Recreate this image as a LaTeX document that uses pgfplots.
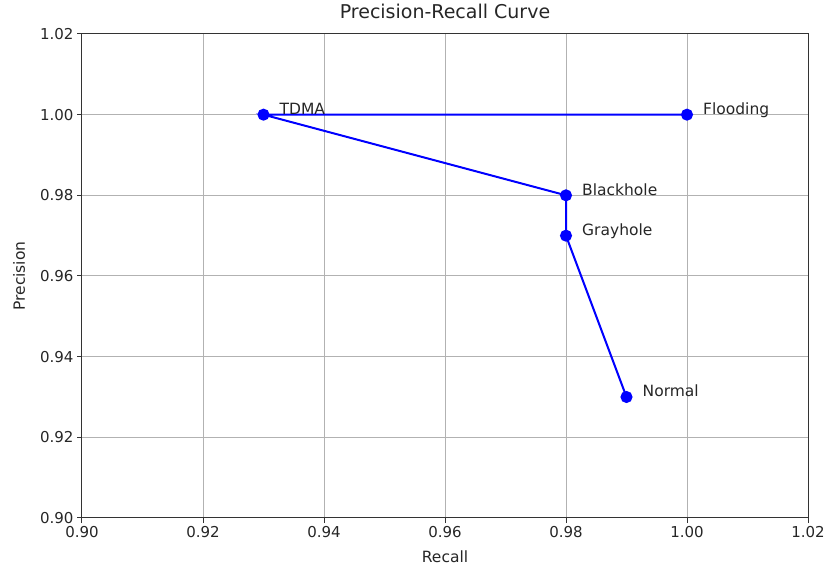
\documentclass[border=0pt]{standalone}
\usepackage{pgfplots}
\pgfplotsset{compat=1.18}
\usepackage{fontspec}
\setmainfont{DejaVu Sans}
\begin{document}
\begin{tikzpicture}
\begin{axis}[
  scale only axis,
  width=726pt, height=484pt,
  xmin=0.90, xmax=1.02, ymin=0.90, ymax=1.02,
  xtick={0.90,0.92,...,1.021}, ytick={0.90,0.92,...,1.021},
  xticklabel style={/pgf/number format/.cd,fixed,fixed zerofill,precision=2},
  yticklabel style={/pgf/number format/.cd,fixed,fixed zerofill,precision=2},
  /pgf/number format/assume math mode=true,
  ticklabel style={font=\fontsize{15}{18}\selectfont, text=black!85},
  label style={font=\fontsize{15.5}{18}\selectfont, text=black!85},
  title style={font=\fontsize{19}{22}\selectfont, text=black!85,
    at={(axis description cs:0.5,1)}, anchor=base, yshift=9pt},
  title={Precision-Recall Curve},
  xlabel={Recall}, ylabel={Precision},
  xlabel style={at={(axis description cs:0.5,0)}, anchor=base, yshift=-44pt},
  ylabel style={at={([xshift=-57pt]axis description cs:0,0.5)}, rotate=0, anchor=base},
  grid=major,
  grid style={color=black!30, line width=1pt},
  axis line style={black!80, line width=1pt},
  tick style={black!80, line width=1pt},
  tick align=outside,
  major tick length=5pt,
  xtick pos=bottom, ytick pos=left,
]
\addplot[color=blue, line width=2pt, mark=*, mark size=5pt, mark options={fill=blue, draw=blue}]
  coordinates {(0.99,0.93) (0.98,0.97) (0.98,0.98) (0.93,1.00) (1.00,1.00)};
\node[anchor=base west, inner sep=0pt, xshift=16pt, font=\fontsize{15.5}{18}\selectfont, text=black!85] at (axis cs:0.99,0.93) {Normal};
\node[anchor=base west, inner sep=0pt, xshift=16pt, font=\fontsize{15.5}{18}\selectfont, text=black!85] at (axis cs:0.98,0.97) {Grayhole};
\node[anchor=base west, inner sep=0pt, xshift=16pt, font=\fontsize{15.5}{18}\selectfont, text=black!85] at (axis cs:0.98,0.98) {Blackhole};
\node[anchor=base west, inner sep=0pt, xshift=16pt, font=\fontsize{15.5}{18}\selectfont, text=black!85] at (axis cs:0.93,1.00) {TDMA};
\node[anchor=base west, inner sep=0pt, xshift=16pt, font=\fontsize{15.5}{18}\selectfont, text=black!85] at (axis cs:1.00,1.00) {Flooding};
\coordinate (A) at (rel axis cs:0,0);
\coordinate (B) at (rel axis cs:1,1);
\end{axis}
\pgfresetboundingbox
\path ([shift={(-82pt,-47pt)}]A) rectangle ([shift={(17pt,34pt)}]B);
\end{tikzpicture}
\end{document}
